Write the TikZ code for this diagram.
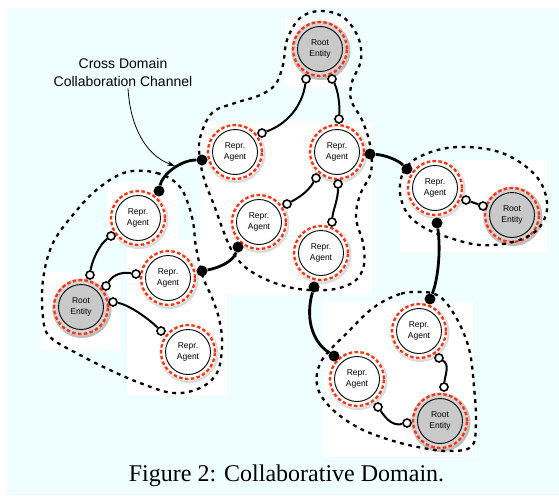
\documentclass[tikz,border=0pt]{standalone}
\usepackage{fontspec}
\setmainfont{Liberation Serif}
\setsansfont{Liberation Sans}
\usetikzlibrary{backgrounds,arrows.meta}
\pgfdeclarelayer{bg}
\pgfsetlayers{bg,background,main}
\definecolor{bgcyan}{RGB}{239,255,255}
\definecolor{ringred}{RGB}{255,51,17}
\tikzset{
 agent/.style={circle, draw=black, line width=0.9pt, fill=white, minimum size=45pt, inner sep=0pt, align=center, font=\sffamily\fontsize{8.5}{10.5}\selectfont},
 rootent/.style={agent, fill=black!21},
 hport/.style={circle, draw=black, line width=1.6pt, fill=white, minimum size=8pt, inner sep=0pt},
 fport/.style={circle, fill=black, minimum size=11pt, inner sep=0pt},
 link/.style={line width=2pt, black},
 xlink/.style={line width=2.8pt, black},
 domainline/.style={line width=2.3pt, dash pattern=on 3.8pt off 4.6pt},
 redring/.style={draw=ringred, line width=2.3pt, dash pattern=on 3.6pt off 2.3pt},
}
\begin{document}
\begin{tikzpicture}[x=1pt,y=-1pt]
\useasboundingbox (0,0) rectangle (559,495);
\begin{pgfonlayer}{bg}
\fill[white] (0,0) rectangle (559,495);
\fill[bgcyan] (7,8) rectangle (559,495);
\fill[white] (285,18) rectangle (350,87);
\fill[white] (200,122) rectangle (372,295);
\fill[white] (400,160) rectangle (547,252);
\fill[white] (323,302) rectangle (473,457);
\fill[white] (40,272) rectangle (120,350);
\fill[white] (127,240) rectangle (227,395);
\fill[white] (107,182) rectangle (178,243);
\end{pgfonlayer}

% domains
\draw[domainline] plot[smooth cycle, tension=0.6] coordinates {(200,160) (200,138) (212,113) (235,103) (258,96) (275,85) (283,65) (287,40) (300,18) (320,11) (343,17) (358,37) (361,60) (352,82) (351,100) (362,120) (370,145) (371,172) (360,195) (356,218) (363,243) (364,265) (355,281) (335,289) (310,290) (288,287) (265,279) (245,267) (232,251) (223,230) (214,205) (205,182)};
\draw[domainline] plot[smooth cycle, tension=0.6] coordinates {(127,172) (157,173) (180,187) (192,217) (196,247) (203,277) (213,300) (220,323) (222,347) (217,373) (200,388) (173,393) (140,383) (110,370) (80,355) (50,337) (43,317) (43,280) (53,243) (77,210) (100,187)};
\draw[domainline] plot[smooth cycle, tension=0.6] coordinates {(400,193) (403,173) (417,158) (447,148) (480,148) (507,155) (530,170) (543,187) (547,210) (537,230) (513,242) (480,245) (447,237) (423,227) (407,213)};
\draw[domainline] plot[smooth cycle, tension=0.6] coordinates {(423,292) (400,294) (373,308) (347,333) (322,360) (317,385) (330,407) (357,427) (390,440) (423,448) (450,451) (472,446) (476,420) (474,387) (470,353) (461,327) (448,305) (437,295)};

% entities
\node[rootent] (rootT) at (320,49) {Root\\Entity};
\node[agent] (rA) at (337,152) {Repr.\\Agent};
\node[agent] (rB) at (235,152) {Repr.\\Agent};
\node[agent] (rC) at (259,222) {Repr.\\Agent};
\node[agent] (rD) at (321,253) {Repr.\\Agent};
\node[agent] (rE) at (435,188) {Repr.\\Agent};
\node[rootent] (rootR) at (512,215) {Root\\Entity};
\node[agent] (rF) at (419,331) {Repr.\\Agent};
\node[agent] (rG) at (357,379) {Repr.\\Agent};
\node[rootent] (rootB) at (440,421) {Root\\Entity};
\node[agent] (rH) at (138,218) {Repr.\\Agent};
\node[agent] (rI) at (168,278) {Repr.\\Agent};
\node[agent] (rJ) at (188,352) {Repr.\\Agent};
\node[rootent] (rootL) at (81,307) {Root\\Entity};

\begin{pgfonlayer}{background}
\foreach \n in {rA,rB,rC,rD,rE,rF,rG,rH,rI,rJ} {
 \fill[black!14] ([shift={(1pt,-1.5pt)}]\n.center) circle (29.5pt);
 \fill[white] (\n) circle (28.5pt);
 \draw[redring] (\n) circle (27pt);
}
\foreach \n in {rootT,rootR,rootB,rootL} {
 \fill[black!26] ([shift={(1pt,-1.5pt)}]\n.center) circle (29.5pt);
 \fill[black!17] (\n) circle (28.5pt);
 \draw[redring] (\n) circle (27pt);
}
\end{pgfonlayer}

% ports
\node[hport] (a1) at (306,79) {};
\node[hport] (a2) at (332,79) {};
\node[hport] (b1) at (262,133) {};
\node[hport] (c1) at (339,119) {};
\node[hport] (d1) at (316,178) {};
\node[hport] (d2) at (338,184) {};
\node[hport] (e1) at (287,204) {};
\node[hport] (e2) at (332,222) {};
\node[hport] (g1) at (466,200) {};
\node[hport] (g2) at (483,206) {};
\node[hport] (h1) at (439,358) {};
\node[hport] (h2) at (444,387) {};
\node[hport] (i1) at (378,407) {};
\node[hport] (i2) at (407,423) {};
\node[hport] (j1) at (111,236) {};
\node[hport] (j2) at (90,275) {};
\node[hport] (k1) at (106,286) {};
\node[hport] (k2) at (136,274) {};
\node[hport] (l1) at (113,302) {};
\node[hport] (l2) at (161,331) {};
\node[fport] (f1) at (370,154) {};
\node[fport] (f2) at (407,169) {};
\node[fport] (f3) at (437,223) {};
\node[fport] (f4) at (430,299) {};
\node[fport] (f5) at (314,287) {};
\node[fport] (f6) at (334,356) {};
\node[fport] (f7) at (202,160) {};
\node[fport] (f8) at (159,191) {};
\node[fport] (f9) at (238,247) {};
\node[fport] (f10) at (202,271) {};

\begin{pgfonlayer}{background}
\draw[link] (a1) .. controls (302,108) and (285,125) .. (b1);
\draw[link] (a2) .. controls (338,90) and (340,105) .. (c1);
\draw[link] (d1) .. controls (308,192) and (298,198) .. (e1);
\draw[link] (d2) .. controls (338,200) and (333,210) .. (e2);
\draw[xlink] (f1) .. controls (385,155) and (398,160) .. (f2);
\draw[link] (g1) -- (g2);
\draw[xlink] (f3) .. controls (441,250) and (438,280) .. (f4);
\draw[xlink] (f5) .. controls (306,315) and (310,340) .. (f6);
\draw[link] (h1) .. controls (450,365) and (445,375) .. (h2);
\draw[link] (i1) .. controls (387,420) and (393,426) .. (i2);
\draw[xlink] (f7) .. controls (180,160) and (162,175) .. (f8);
\draw[xlink] (f9) .. controls (233,262) and (218,268) .. (f10);
\draw[link] (j1) .. controls (100,244) and (92,260) .. (j2);
\draw[link] (k1) .. controls (114,273) and (125,272) .. (k2);
\draw[link] (l1) .. controls (130,305) and (150,320) .. (l2);
\end{pgfonlayer}

% annotation
\node[font=\sffamily\fontsize{14}{18}\selectfont, align=center, inner sep=0pt] (ann) at (123,72) {Cross Domain\\Collaboration Channel};
\coordinate (annend) at (175,166);
\draw[-{Stealth[length=8pt,width=5pt]}, line width=0.8pt] ([xshift=5pt,yshift=-2pt]ann.south) .. controls (130,125) and (145,155) .. (annend);

% caption
\node[font=\fontsize{24}{28}\selectfont, anchor=base, inner sep=0pt] (cap) at (286.5,481) {Figure 2: Collaborative Domain.};
\end{tikzpicture}
\end{document}
